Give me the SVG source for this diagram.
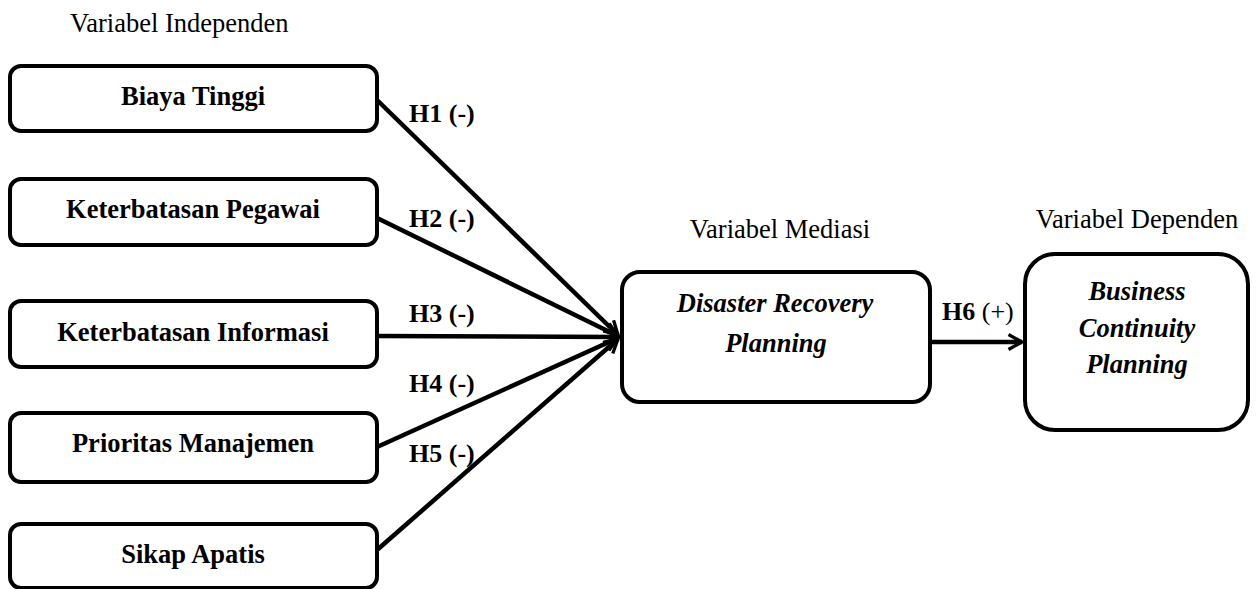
<svg xmlns="http://www.w3.org/2000/svg" width="1258" height="589" viewBox="0 0 1258 589">
<style>
.box{fill:#fff;stroke:#000;stroke-width:4}
.nt{font-family:"Liberation Serif",serif;font-size:26.5px;font-weight:bold;text-anchor:middle}
.it{font-style:italic}
.lab{font-family:"Liberation Serif",serif;font-size:26px;font-weight:bold}
.cap{font-family:"Liberation Serif",serif;font-size:26.5px}
.ln{stroke:#000;stroke-width:4.5;fill:none;marker-end:url(#ah)}
</style>
<defs>
<marker id="ah" viewBox="0 0 12 12" refX="10" refY="6" markerWidth="4" markerHeight="4" orient="auto" markerUnits="strokeWidth">
<path d="M1,1 L10,6 L1,11" fill="none" stroke="#000" stroke-width="2.2"/>
</marker>
</defs>
<text class="cap" x="70" y="32">Variabel Independen</text>
<text class="cap" x="780" y="238" text-anchor="middle">Variabel Mediasi</text>
<text class="cap" x="1137" y="228" text-anchor="middle">Variabel Dependen</text>
<g id="connectors">
<line class="ln" x1="377" y1="100" x2="618" y2="335"/>
<line class="ln" x1="377" y1="218" x2="618" y2="336"/>
<line class="ln" x1="377" y1="336" x2="618" y2="337"/>
<line class="ln" x1="377" y1="447" x2="618" y2="338"/>
<line class="ln" x1="377" y1="550" x2="618" y2="339"/>
<line class="ln" x1="930" y1="342" x2="1022" y2="342"/>
<text class="lab" x="409" y="122">H1 (-)</text>
<text class="lab" x="409" y="227">H2 (-)</text>
<text class="lab" x="409" y="322">H3 (-)</text>
<text class="lab" x="409" y="392">H4 (-)</text>
<text class="lab" x="409" y="462">H5 (-)</text>
<text class="lab" x="942" y="320">H6 <tspan font-weight="normal">(+)</tspan></text>
</g>
<g id="n1"><rect class="box" x="10" y="66" width="367" height="65" rx="11"/><text class="nt" x="193" y="105">Biaya Tinggi</text></g>
<g id="n2"><rect class="box" x="10" y="179" width="367" height="66" rx="11"/><text class="nt" x="193" y="218">Keterbatasan Pegawai</text></g>
<g id="n3"><rect class="box" x="10" y="301" width="367" height="66" rx="11"/><text class="nt" x="193" y="341">Keterbatasan Informasi</text></g>
<g id="n4"><rect class="box" x="10" y="413" width="367" height="69" rx="11"/><text class="nt" x="193" y="452">Prioritas Manajemen</text></g>
<g id="n5"><rect class="box" x="10" y="524" width="367" height="64" rx="11"/><text class="nt" x="193" y="563">Sikap Apatis</text></g>
<g id="drp"><rect class="box" x="622" y="272" width="308" height="130" rx="18"/><text class="nt it" x="775" y="312">Disaster Recovery</text><text class="nt it" x="776" y="352">Planning</text></g>
<g id="bcp"><rect class="box" x="1025" y="254" width="223" height="176" rx="30"/><text class="nt it" x="1137" y="300">Business</text><text class="nt it" x="1137" y="337">Continuity</text><text class="nt it" x="1137" y="373">Planning</text></g>
</svg>
